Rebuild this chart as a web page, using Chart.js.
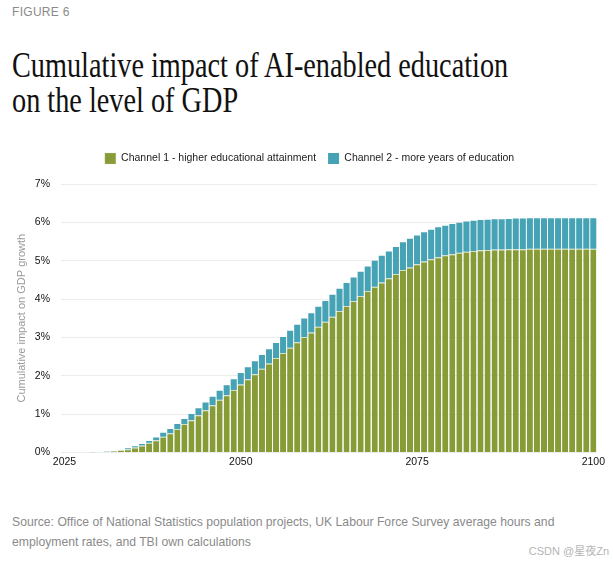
<!DOCTYPE html>
<html>
<head>
<meta charset="utf-8">
<script src="https://cdn.jsdelivr.net/npm/chart.js@4"></script>
<style>
  html, body { margin: 0; padding: 0; background: #fff; }
  body { width: 613px; height: 561px; position: relative; overflow: hidden; font-family: "Liberation Sans", Arial, sans-serif; }
  #fig { position: absolute; left: 12px; top: 5px; font-size: 12px; color: #8a8a8a; letter-spacing: 0.3px; }
  .ttl { position: absolute; left: 12px; font-family: "Liberation Serif", serif; font-size: 35px; color: #111; white-space: nowrap; transform-origin: left top; line-height: 35px; }
  #wrap { position: absolute; left: 8px; top: 140px; width: 600px; height: 331px; }
  #src { position: absolute; left: 12px; top: 512px; font-size: 12.2px; line-height: 20px; color: #8a8a8a; }
  #wm { position: absolute; right: 4px; top: 542px; font-size: 11px; color: #b5b5b5; font-family: "Liberation Sans", "Noto Sans CJK SC", sans-serif; }
</style>
</head>
<body>
<div id="fig">FIGURE 6</div>
<div class="ttl" id="t1" style="top:48px">Cumulative impact of AI-enabled education</div>
<div class="ttl" id="t2" style="top:83px">on the level of GDP</div>
<div id="wrap"><canvas id="chart"></canvas></div>
<div id="src">Source: Office of National Statistics population projects, UK Labour Force Survey average hours and<br>employment rates, and TBI own calculations</div>
<div id="wm">CSDN @星夜Zn</div>
<script>
// years 2025..2100
const years = [];
for (let y = 2025; y <= 2100; y++) years.push(String(y));

// Channel 1 - higher educational attainment (% of GDP)
const channel1 = [
  0, 0, 0, 0, 0.005, 0.01, 0.02, 0.04, 0.055, 0.08,
  0.125, 0.18, 0.25, 0.32, 0.41, 0.50, 0.61, 0.74, 0.84, 0.97,
  1.10, 1.23, 1.37, 1.49, 1.63, 1.77, 1.91, 2.04, 2.18, 2.32,
  2.46, 2.59, 2.73, 2.87, 3.01, 3.13, 3.28, 3.41, 3.54, 3.69,
  3.82, 3.95, 4.08, 4.21, 4.32, 4.43, 4.54, 4.65, 4.76, 4.82,
  4.91, 4.98, 5.04, 5.09, 5.14, 5.17, 5.21, 5.23, 5.25, 5.27,
  5.28, 5.29, 5.29, 5.30, 5.30, 5.30, 5.31, 5.31, 5.31, 5.31,
  5.31, 5.31, 5.31, 5.31, 5.31, 5.31
];

// total (channel 1 + channel 2)
const total = [
  0, 0, 0, 0, 0.005, 0.012, 0.025, 0.045, 0.065, 0.11,
  0.16, 0.22, 0.30, 0.39, 0.51, 0.61, 0.74, 0.87, 1.00, 1.15,
  1.30, 1.45, 1.61, 1.75, 1.91, 2.07, 2.22, 2.38, 2.54, 2.69,
  2.85, 3.01, 3.17, 3.33, 3.49, 3.63, 3.80, 3.95, 4.11, 4.27,
  4.42, 4.56, 4.71, 4.85, 5.00, 5.13, 5.24, 5.36, 5.48, 5.57,
  5.66, 5.74, 5.81, 5.87, 5.91, 5.96, 5.99, 6.02, 6.04, 6.06,
  6.07, 6.08, 6.08, 6.09, 6.10, 6.10, 6.11, 6.11, 6.11, 6.11,
  6.11, 6.11, 6.11, 6.11, 6.11, 6.11
];

// Channel 2 - more years of education
const channel2 = total.map((t, i) => +(t - channel1[i]).toFixed(3));

const yTicks = [0, 1, 2, 3, 4, 5, 6, 7];
const labelYears = ['2025', '2050', '2075', '2100'];

// squeeze serif title into a condensed look
const t1 = document.getElementById('t1');
const sx = 496 / t1.scrollWidth;
document.querySelectorAll('.ttl').forEach(el => el.style.transform = 'scaleX(' + sx + ')');

// extra room under the legend
const legendGap = {
  id: 'legendGap',
  beforeInit(chart) {
    const fit = chart.legend.fit;
    chart.legend.fit = function () {
      fit.bind(chart.legend)();
      this.height += 10;
    };
  }
};

const tickFont = { family: 'Liberation Sans', size: 10.5 };

new Chart(document.getElementById('chart'), {
  type: 'bar',
  data: {
    labels: years,
    datasets: [{
      label: 'Channel 1 - higher educational attainment',
      data: channel1,
      backgroundColor: '#879b37',
      borderColor: '#d6dfc0',
      borderWidth: { top: 1 },
      borderSkipped: 'bottom',
      barPercentage: 0.86,
      categoryPercentage: 1
    }, {
      label: 'Channel 2 - more years of education',
      data: channel2,
      backgroundColor: '#46a3b5',
      barPercentage: 0.86,
      categoryPercentage: 1
    }]
  },
  options: {
    responsive: true,
    maintainAspectRatio: false,
    animation: false,
    layout: { padding: { left: 3, right: 0, top: 1, bottom: 0 } },
    plugins: {
      legend: {
        position: 'top',
        labels: {
          boxWidth: 11, boxHeight: 11, padding: 12,
          color: '#222',
          font: tickFont
        }
      },
      tooltip: { enabled: false }
    },
    scales: {
      x: {
        stacked: true,
        grid: { display: false, drawTicks: false },
        border: { display: false },
        ticks: {
          autoSkip: false, maxRotation: 0, color: '#111', padding: 3,
          font: tickFont,
          callback: function (v) {
            const l = this.getLabelForValue(v);
            return labelYears.includes(l) ? l : '';
          }
        }
      },
      y: {
        stacked: true,
        min: 0, max: 7,
        afterBuildTicks: ax => { ax.ticks = yTicks.map(v => ({ value: v })); },
        afterFit: ax => { ax.width = 50; },
        grid: { color: '#ececec', drawTicks: false },
        border: { display: false },
        ticks: {
          padding: 11, color: '#111',
          font: tickFont,
          callback: v => v + '%'
        },
        title: {
          display: true, text: 'Cumulative impact on GDP growth',
          color: '#9a9a9a', font: { family: 'Liberation Sans', size: 11 }
        }
      }
    }
  },
  plugins: [legendGap]
});
</script>
</body>
</html>
